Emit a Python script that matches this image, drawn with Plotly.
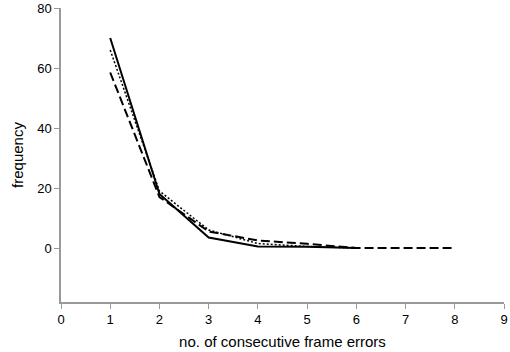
import plotly.graph_objects as go

x_solid = [1, 2, 3, 4, 5, 6]
y_solid = [70, 18, 3.5, 0.5, 0.4, 0]
x_dotted = [1, 2, 3, 4, 5, 6]
y_dotted = [66, 19, 6, 1.5, 0.5, 0]
x_dashed = [1, 2, 3, 4, 5, 6, 7, 8]
y_dashed = [58.5, 17, 5.5, 2.5, 1.4, 0, 0, 0]

x_ticks = [0, 1, 2, 3, 4, 5, 6, 7, 8, 9]
y_ticks = [0, 20, 40, 60, 80]

FONT = "Liberation Sans, Arial"

fig = go.Figure()
fig.add_trace(go.Scatter(x=x_dotted, y=y_dotted, mode="lines",
                         line=dict(color="black", width=1.5, dash="2px,2px")))
fig.add_trace(go.Scatter(x=x_dashed, y=y_dashed, mode="lines",
                         line=dict(color="black", width=2, dash="9px,4px")))
fig.add_trace(go.Scatter(x=x_solid, y=y_solid, mode="lines",
                         line=dict(color="black", width=2)))

axis_common = dict(showgrid=False, zeroline=False, showline=True,
                   linecolor="#999999", linewidth=1.5, ticks="outside",
                   tickcolor="#999999", ticklen=5, tickwidth=1, automargin=False,
                   tickfont=dict(family=FONT, size=13, color="black"))

fig.update_layout(
    width=510, height=352,
    margin=dict(l=61, r=6, t=8, b=50),
    plot_bgcolor="white", paper_bgcolor="white",
    showlegend=False,
    xaxis=dict(range=[0, 9], tickvals=x_ticks, **axis_common,
               title=dict(text="no. of consecutive frame errors", standoff=10,
                          font=dict(family=FONT, size=15, color="black"))),
    yaxis=dict(range=[-18, 80], tickvals=y_ticks, **axis_common,
               title=dict(text="frequency", standoff=10,
                          font=dict(family=FONT, size=15, color="black"))),
)

fig.write_html("out.html", config={"displayModeBar": False},
               post_script="document.body.style.margin='0';")
